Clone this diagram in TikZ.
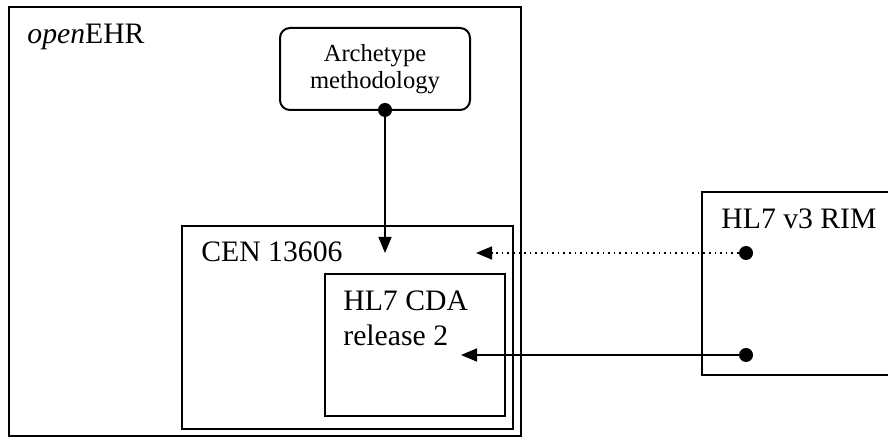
\documentclass[tikz,border=0pt]{standalone}
\usepackage{fontspec}
\setmainfont{Liberation Serif}
\usetikzlibrary{arrows.meta,positioning}

\begin{document}
\begin{tikzpicture}[x=0.5pt,y=-0.5pt]
\tikzstyle{box}=[draw, line width=1pt, inner sep=0pt]
\tikzstyle{boxlabel}=[anchor=base west, inner sep=0pt, align=left, font=\fontsize{14.85}{17.5}\selectfont]
\tikzstyle{dot}=[circle, fill, inner sep=0pt, minimum size=7pt]
\tikzstyle{link}=[line width=0.8pt, -{Triangle[length=8pt,width=6.5pt]}]

\useasboundingbox (0,0) rectangle (888,437);
\clip (0,0) rectangle (888,437);

\node[box, minimum width=256pt, minimum height=214.5pt] (ehr) at (265,221.5) {};
\node[box, minimum width=165.5pt, minimum height=101.5pt] (cen) at (347.5,327.5) {};
\node[box, minimum width=90pt, minimum height=71pt] (cda) at (415,345) {};
\node[box, minimum width=99pt, minimum height=91.5pt] (rim) at (801,283.5) {};
\node[box, rounded corners=5pt, minimum width=95pt, minimum height=41pt, align=center,
      font=\fontsize{12.3}{13.5}\selectfont] (arch) at (375,69) {Archetype\\methodology};

\node[boxlabel] (ehrlabel) at ([shift={(19,38)}]ehr.north west) {\textit{open}EHR};
\node[boxlabel] (cenlabel) at ([shift={(20,37)}]cen.north west) {CEN 13606};
% base of a two line node sits on the last line
\node[boxlabel] (cdalabel) at ([shift={(19,73)}]cda.north west) {HL7 CDA\\release 2};
\node[boxlabel] (rimlabel) at ([shift={(20,38)}]rim.north west) {HL7 v3 RIM};

\node[dot] (archdot) at (385,110) {};
\node[dot] (rimtop) at (746,253) {};
\node[dot] (rimbot) at (746,355) {};
\coordinate (cenin) at (385,253);
\coordinate (censide) at (476,253);
\coordinate (cdain) at (461,355);

\draw[link] (archdot.center) -- (cenin);
\draw[link, dotted] (rimtop) -- (censide);
\draw[link] (rimbot) -- (cdain);
\end{tikzpicture}
\end{document}
